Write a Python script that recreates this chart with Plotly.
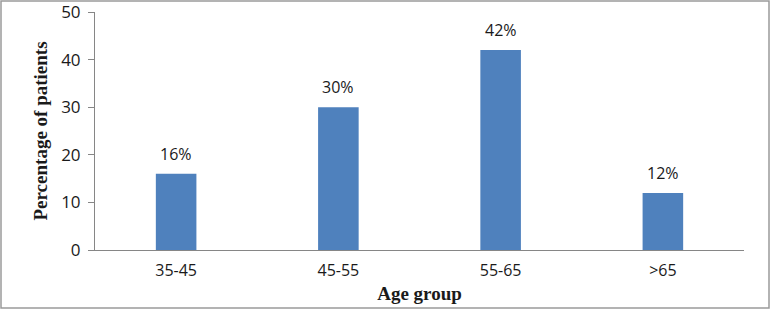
import plotly.graph_objects as go

categories = ["35-45", "45-55", "55-65", ">65"]
values = [16, 30, 42, 12]
labels = ["16%", "30%", "42%", "12%"]

W, H = 771, 310
L, R, T, B = 95, 27, 12, 60
pw, ph = W - L - R, H - T - B

fig = go.Figure()
fig.add_trace(go.Bar(x=categories, y=values, width=0.25,
                     marker=dict(color="#4F81BD", line=dict(width=0))))

for c, v, t in zip(categories, values, labels):
    fig.add_annotation(x=c, y=v, text=t, showarrow=False, yshift=20,
                       font=dict(family="Open Sans, Liberation Sans", size=16, color="#1a1a1a"))

# outer border
fig.add_shape(type="rect", xref="paper", yref="paper",
              x0=(1 - L) / pw, x1=(769 - L) / pw,
              y0=(H - B - 308) / ph, y1=(H - B - 1) / ph,
              line=dict(color="#9a9a9a", width=1.5), fillcolor="rgba(0,0,0,0)")

fig.update_layout(
    width=W, height=H, margin=dict(l=L, r=R, t=T, b=B, autoexpand=False),
    paper_bgcolor="white", plot_bgcolor="white", showlegend=False,
    font=dict(family="Open Sans, Liberation Sans", size=16, color="#1a1a1a"),
    xaxis=dict(showline=True, linecolor="#868686", linewidth=1, ticks="",
               showgrid=False, tickfont=dict(size=16), ticklabelstandoff=6,
               automargin=False,
               title=dict(text="<b>Age group</b>", standoff=6,
                          font=dict(family="Liberation Serif", size=19, color="#1a1a1a"))),
    yaxis=dict(range=[0, 50], dtick=10, showline=True, linecolor="#868686", linewidth=1,
               ticks="outside", ticklen=6, tickcolor="#868686", showgrid=False,
               zeroline=False, tickfont=dict(size=17), ticklabelstandoff=4,
               ticklabeloverflow="allow", automargin=False,
               title=dict(text="<b>Percentage of patients</b>", standoff=8,
                          font=dict(family="Liberation Serif", size=19, color="#1a1a1a"))),
)

fig.write_html("out.html")
